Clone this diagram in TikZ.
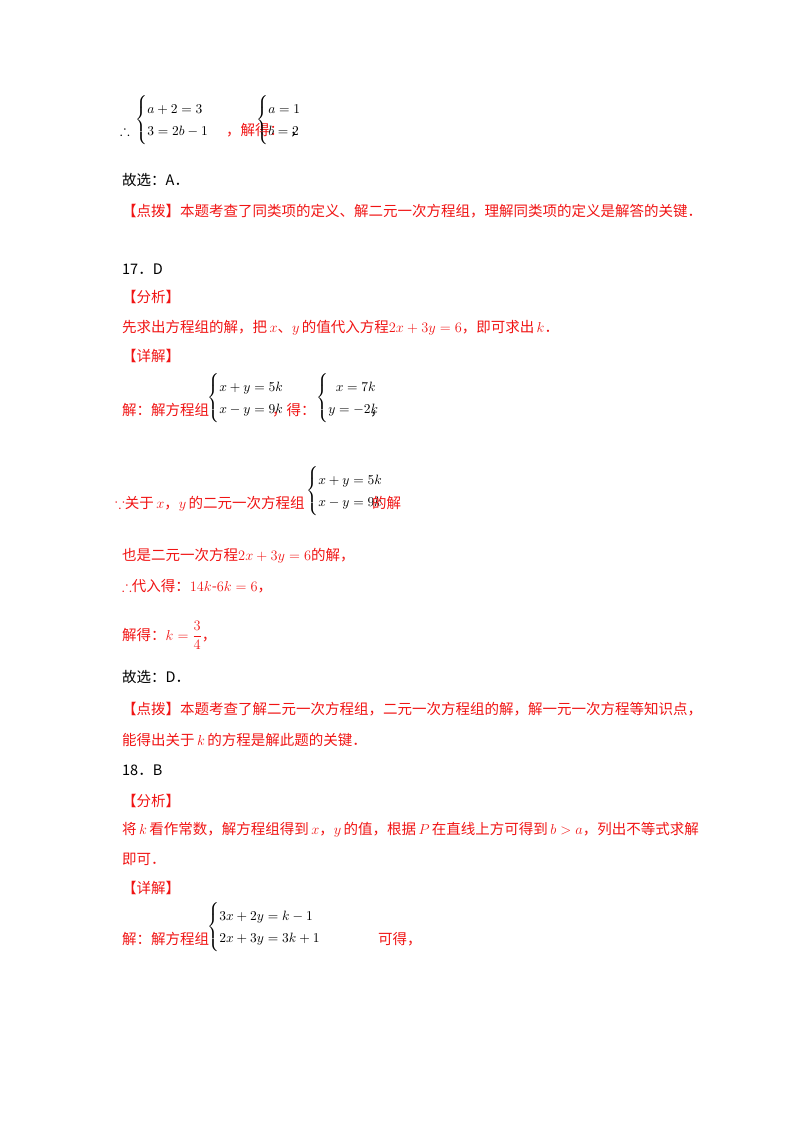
\documentclass[tikz,border=0pt]{standalone}
\usepackage{amsmath,amssymb}
\usepackage{fontspec}
\newfontfamily\cjk{Noto Sans CJK SC}
\definecolor{rd}{RGB}{240,20,20}
\begin{document}
\begin{tikzpicture}[x=1pt,y=-1pt,
 t/.style={anchor=base west,inner sep=0pt,font=\fontsize{14.5}{16}\cjk},
 r/.style={t,text=rd},
 eq/.style={anchor=west,inner sep=0pt,scale=1.35,font=\fontsize{10}{14}\selectfont}]
\useasboundingbox (0,0) rectangle (800,1132);
\node[t] (l0) at (120,135) {$\therefore$};
\node[eq] (e1) at (135,120) {$\begin{cases}a+2=3\\3=2b-1\end{cases}$};
\node[r] (l1) at (226,135) {，解得：};
\node[eq] (e2) at (256,120) {$\begin{cases}a=1\\b=2\end{cases}$};
\node[t] (l1b) at (290,135) {，};
\node[t] (l2) at (122,185) {故选：A．};
\node[r] (l3) at (122,216) {【点拨】本题考查了同类项的定义、解二元一次方程组，理解同类项的定义是解答的关键．};
\node[t] (l4) at (122,274) {17．D};
\node[r] (l5) at (122,302) {【分析】};
\node[r] (l6) at (122,332) {先求出方程组的解，把\,$x$、$y$\,的值代入方程$2x+3y=6$，即可求出\,$k$．};
\node[r] (l7) at (122,361) {【详解】};
\node[r] (l8) at (122,415) {解：解方程组};
\node[eq] (e3) at (207,398) {$\begin{cases}x+y=5k\\x-y=9k\end{cases}$};
\node[r] (l9) at (272,415) {，得：};
\node[eq] (e4) at (316,398) {$\begin{cases}\;\;x=7k\\y=-2k\end{cases}$};
\node[t] (l9b) at (370,415) {，};
\node[r] (l10) at (115,508) {$\because$关于\,$x$，$y$\,的二元一次方程组};
\node[eq] (e5) at (306,491) {$\begin{cases}x+y=5k\\x-y=9k\end{cases}$};
\node[r] (l11) at (372,508) {的解};
\node[r] (l12) at (122,560) {也是二元一次方程$2x+3y=6$的解，};
\node[r] (l13) at (122,591) {$\therefore$代入得：$14k$-$6k=6$，};
\node[r] (l14) at (122,640) {解得：$k=\dfrac{3}{4}$，};
\node[t] (l15) at (122,682) {故选：D．};
\node[r] (l16) at (122,714) {【点拨】本题考查了解二元一次方程组，二元一次方程组的解，解一元一次方程等知识点，};
\node[r] (l17) at (122,745) {能得出关于\,$k$\,的方程是解此题的关键．};
\node[t] (l18) at (122,775) {18．B};
\node[r] (l19) at (122,806) {【分析】};
\node[r] (l20) at (122,834) {将\,$k$\,看作常数，解方程组得到\,$x$，$y$\,的值，根据\,$P$\,在直线上方可得到\,$b>a$，列出不等式求解};
\node[r] (l21) at (122,864) {即可．};
\node[r] (l22) at (122,893) {【详解】};
\node[r] (l23) at (122,944) {解：解方程组};
\node[eq] (e6) at (207,927) {$\begin{cases}3x+2y=k-1\\2x+3y=3k+1\end{cases}$};
\node[r] (l24) at (378,944) {可得，};
\end{tikzpicture}
\end{document}
